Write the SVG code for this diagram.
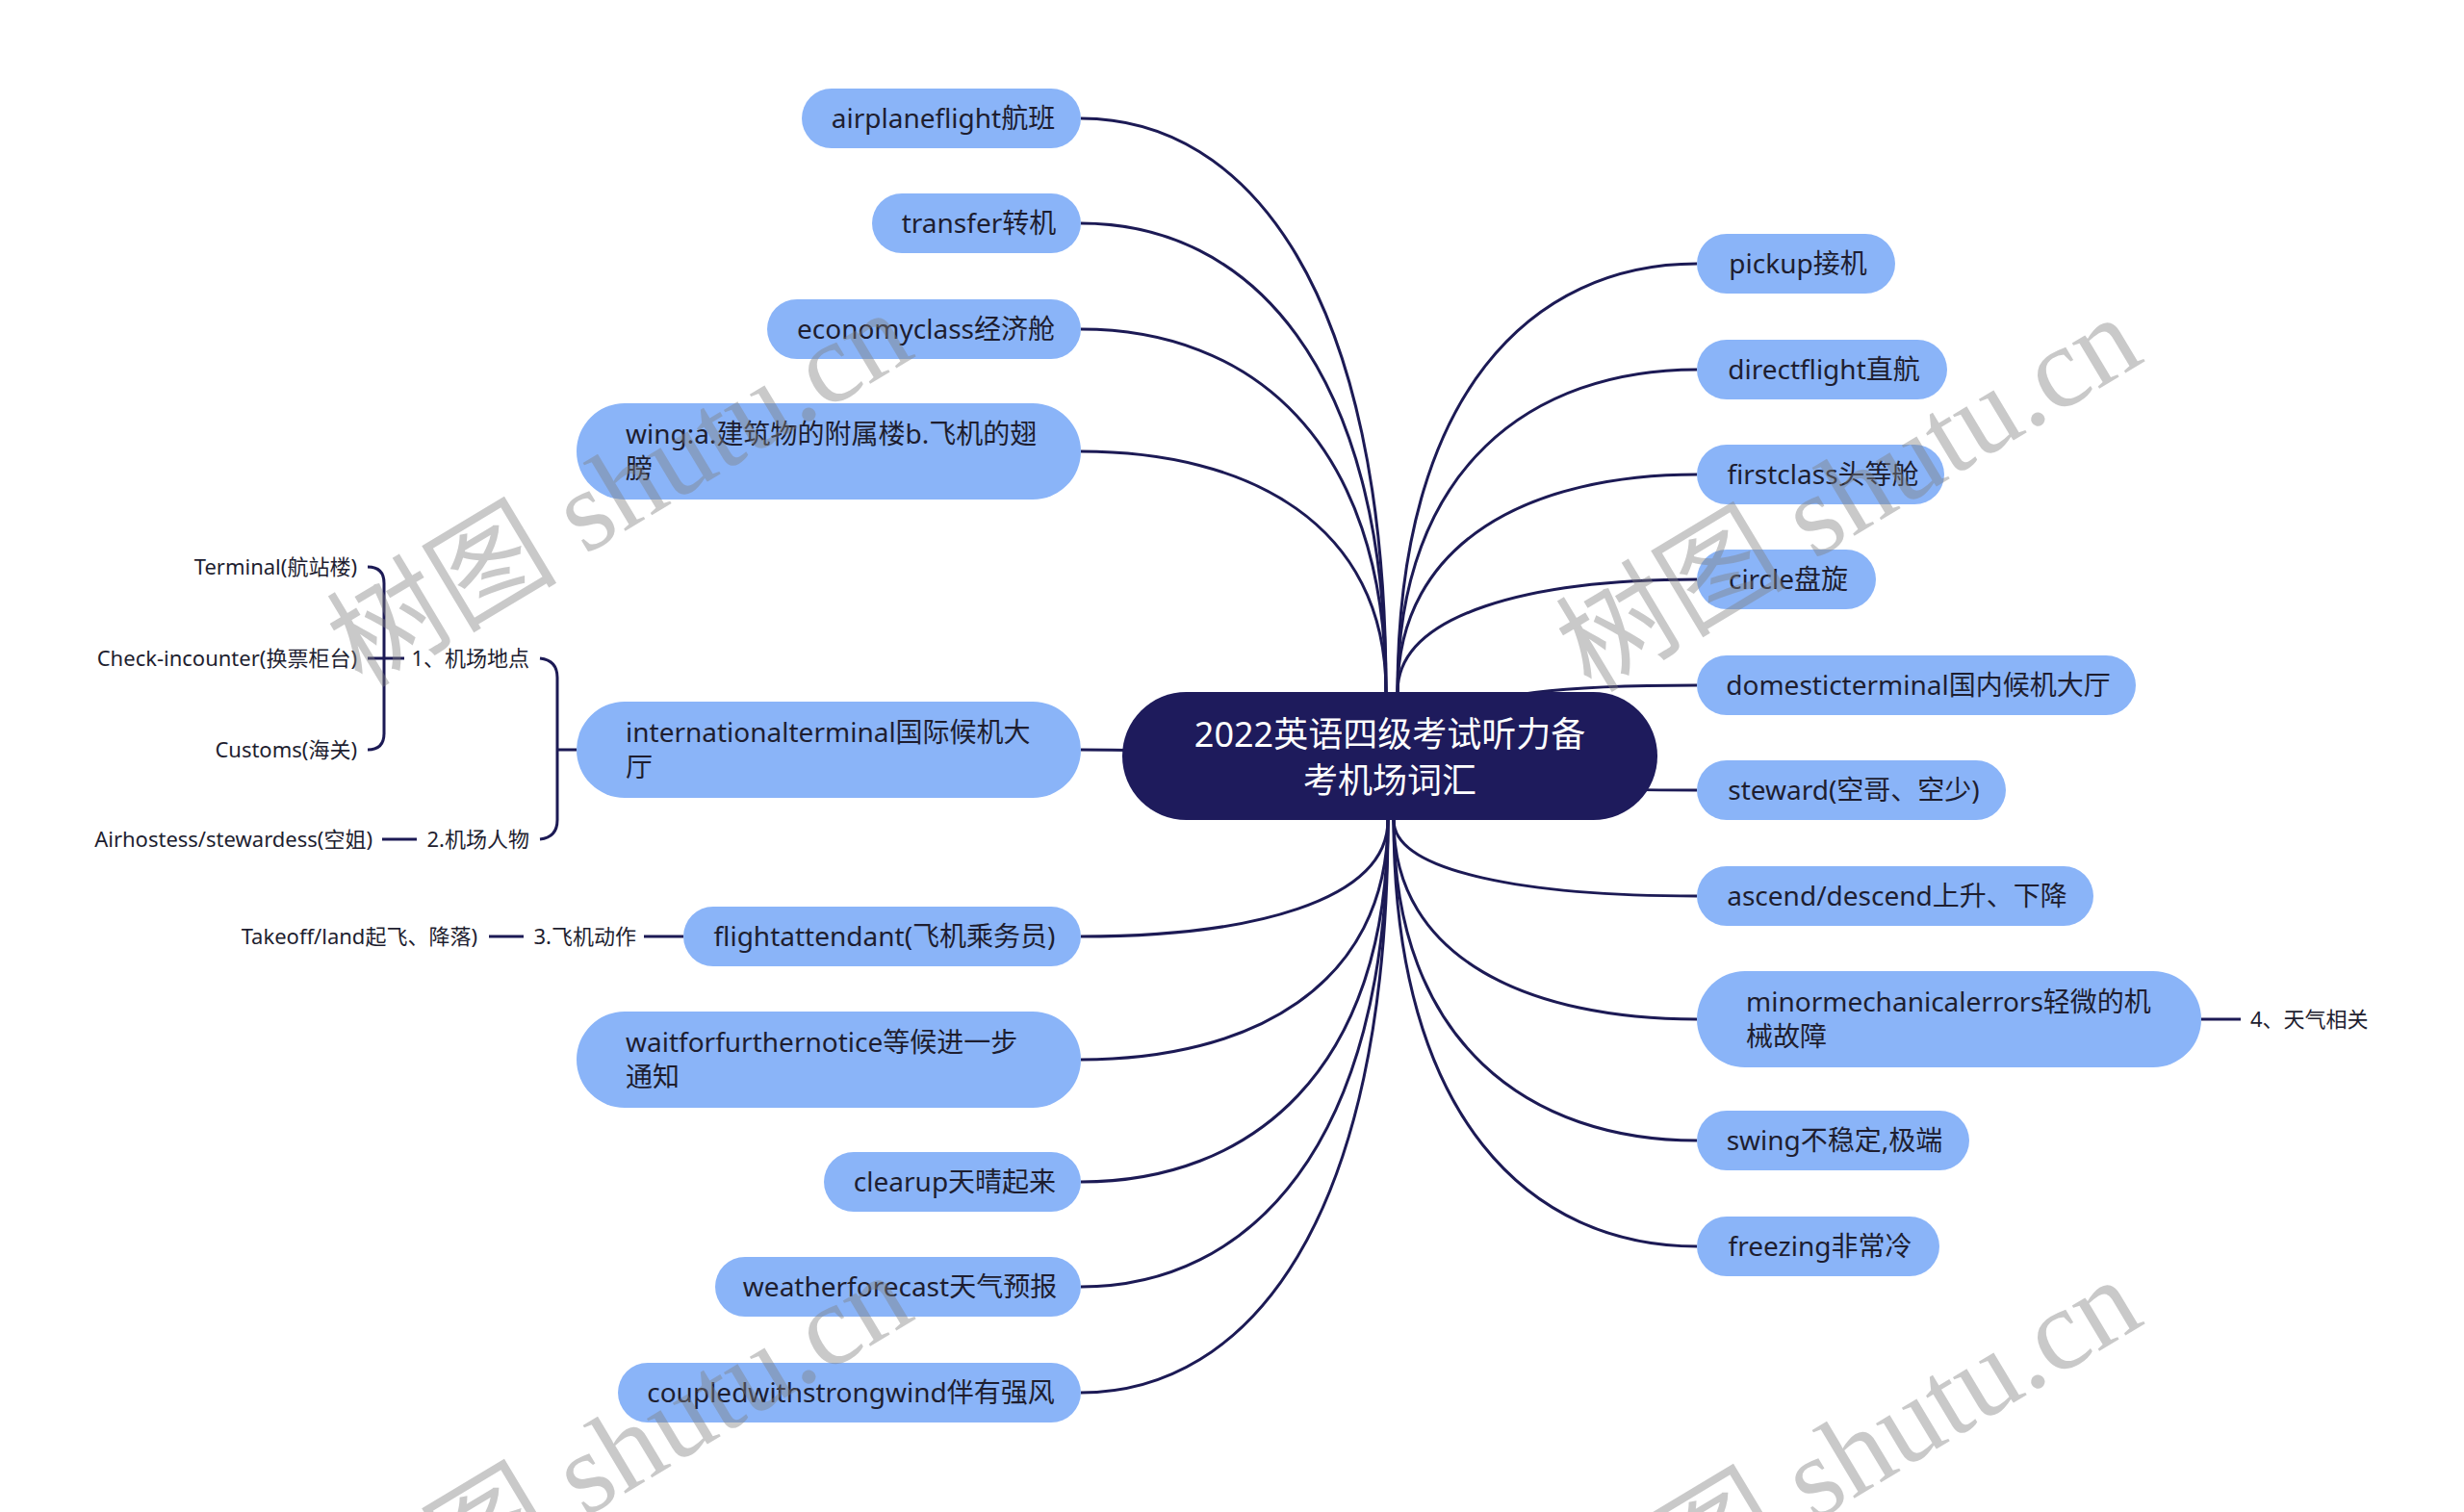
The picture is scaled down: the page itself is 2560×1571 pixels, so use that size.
<svg xmlns="http://www.w3.org/2000/svg" width="2560" height="1571" viewBox="0 0 2560 1571">
<style>
.bg{fill:#ffffff}
.n rect{fill:#8ab4f8}
.t{font-family:"Noto Sans","Noto Sans CJK SC",sans-serif;font-size:28px;fill:#1e1e30}
.c{text-anchor:middle}
.s{font-family:"Noto Sans","Noto Sans CJK SC",sans-serif;font-size:22px;fill:#1e1e30}
.e{text-anchor:end}
.root rect{fill:#1e1b5c}
.root text{font-family:"Noto Sans","Noto Sans CJK SC",sans-serif;font-size:36px;fill:#ffffff;text-anchor:middle}
.k{fill:none;stroke:#1c1a55;stroke-width:3}
.wm{font-family:"Liberation Serif","Noto Sans CJK SC",serif;font-size:120px;fill:#808080;opacity:0.42}
</style>
<rect class="bg" x="0" y="0" width="2560" height="1571"/>
<g id="connectors">
<path class="k" d="M1123,123 C1297,123 1440,302 1440,719"/>
<path class="k" d="M1123,232 C1297,232 1440,378 1440,719"/>
<path class="k" d="M1123,342 C1297,342 1440,455 1440,719"/>
<path class="k" d="M1123,469 C1297,469 1440,544 1440,719"/>
<path class="k" d="M1123,779 C1250,779 1300,785 1444,785"/>
<path class="k" d="M1123,973 C1298,973 1442,937 1442,852"/>
<path class="k" d="M1123,1101 C1298,1101 1442,1026 1442,852"/>
<path class="k" d="M1123,1228 C1298,1228 1442,1115 1442,852"/>
<path class="k" d="M1123,1337 C1298,1337 1442,1191 1442,852"/>
<path class="k" d="M1123,1447 C1298,1447 1442,1268 1442,852"/>
<path class="k" d="M1763,274 C1592,274 1452,408 1452,719"/>
<path class="k" d="M1763,384 C1592,384 1452,485 1452,719"/>
<path class="k" d="M1763,493 C1592,493 1452,561 1452,719"/>
<path class="k" d="M1763,602 C1592,602 1452,637 1452,719"/>
<path class="k" d="M1452,760 C1540,716 1640,712 1763,712"/>
<path class="k" d="M1452,800 C1600,821 1680,821 1763,821"/>
<path class="k" d="M1763,931 C1590,931 1448,907 1448,852"/>
<path class="k" d="M1763,1059 C1590,1059 1448,997 1448,852"/>
<path class="k" d="M1763,1185 C1590,1185 1448,1085 1448,852"/>
<path class="k" d="M1763,1295 C1590,1295 1448,1162 1448,852"/>
<path class="k" d="M599,779 L579,779 M561,684 Q579,686 579,704 L579,852 Q579,870 561,872"/>
<path class="k" d="M382,589 Q399,589 399,606 L399,762 Q399,779 382,779 M382,684 L420,684"/>
<path class="k" d="M397,872 L433,872"/>
<path class="k" d="M669,973 L710,973 M508,973 L544,973"/>
<path class="k" d="M2287,1059 L2328,1059"/>
</g>
<g id="root" class="root">
<rect x="1166" y="719" width="556" height="133" rx="66.5"/>
<text x="1444" y="776">2022英语四级考试听力备</text>
<text x="1444" y="824">考机场词汇</text>
</g>
<g id="n-airplaneflight" class="n"><rect x="833" y="92" width="290" height="62" rx="31"/><text class="t c" x="980" y="133">airplaneflight航班</text></g>
<g id="n-transfer" class="n"><rect x="906" y="201" width="217" height="62" rx="31"/><text class="t c" x="1017" y="242">transfer转机</text></g>
<g id="n-economyclass" class="n"><rect x="797" y="311" width="326" height="62" rx="31"/><text class="t c" x="962" y="352">economyclass经济舱</text></g>
<g id="n-wing" class="n"><rect x="599" y="419" width="524" height="100" rx="50"/><text class="t" x="650" y="461">wing:a.建筑物的附属楼b.飞机的翅</text><text class="t" x="650" y="497">膀</text></g>
<g id="n-international" class="n"><rect x="599" y="729" width="524" height="100" rx="50"/><text class="t" x="650" y="771">internationalterminal国际候机大</text><text class="t" x="650" y="807">厅</text></g>
<g id="n-flightattendant" class="n"><rect x="710" y="942" width="413" height="62" rx="31"/><text class="t c" x="919" y="983">flightattendant(飞机乘务员)</text></g>
<g id="n-waitfor" class="n"><rect x="599" y="1051" width="524" height="100" rx="50"/><text class="t" x="650" y="1093">waitforfurthernotice等候进一步</text><text class="t" x="650" y="1129">通知</text></g>
<g id="n-clearup" class="n"><rect x="856" y="1197" width="267" height="62" rx="31"/><text class="t c" x="992" y="1238">clearup天晴起来</text></g>
<g id="n-weatherforecast" class="n"><rect x="743" y="1306" width="380" height="62" rx="31"/><text class="t c" x="935" y="1347">weatherforecast天气预报</text></g>
<g id="n-coupled" class="n"><rect x="642" y="1416" width="481" height="62" rx="31"/><text class="t c" x="884" y="1457">coupledwithstrongwind伴有强风</text></g>
<g id="n-pickup" class="n"><rect x="1763" y="243" width="206" height="62" rx="31"/><text class="t c" x="1868" y="284">pickup接机</text></g>
<g id="n-directflight" class="n"><rect x="1763" y="353" width="260" height="62" rx="31"/><text class="t c" x="1895" y="394">directflight直航</text></g>
<g id="n-firstclass" class="n"><rect x="1763" y="462" width="257" height="62" rx="31"/><text class="t c" x="1894" y="503">firstclass头等舱</text></g>
<g id="n-circle" class="n"><rect x="1763" y="571" width="186" height="62" rx="31"/><text class="t c" x="1858" y="612">circle盘旋</text></g>
<g id="n-domestic" class="n"><rect x="1763" y="681" width="456" height="62" rx="31"/><text class="t c" x="1993" y="722">domesticterminal国内候机大厅</text></g>
<g id="n-steward" class="n"><rect x="1763" y="790" width="321" height="62" rx="31"/><text class="t c" x="1926" y="831">steward(空哥、空少)</text></g>
<g id="n-ascend" class="n"><rect x="1763" y="900" width="412" height="62" rx="31"/><text class="t c" x="1971" y="941">ascend/descend上升、下降</text></g>
<g id="n-minor" class="n"><rect x="1763" y="1009" width="524" height="100" rx="50"/><text class="t" x="1814" y="1051">minormechanicalerrors轻微的机</text><text class="t" x="1814" y="1087">械故障</text></g>
<g id="n-swing" class="n"><rect x="1763" y="1154" width="283" height="62" rx="31"/><text class="t c" x="1906" y="1195">swing不稳定,极端</text></g>
<g id="n-freezing" class="n"><rect x="1763" y="1264" width="252" height="62" rx="31"/><text class="t c" x="1891" y="1305">freezing非常冷</text></g>
<g id="l-place"><text class="s e" x="550" y="692">1、机场地点</text></g>
<g id="l-people"><text class="s e" x="550" y="880">2.机场人物</text></g>
<g id="l-terminal"><text class="s e" x="371" y="597">Terminal(航站楼)</text></g>
<g id="l-checkin"><text class="s e" x="371" y="692">Check-incounter(换票柜台)</text></g>
<g id="l-customs"><text class="s e" x="371" y="787">Customs(海关)</text></g>
<g id="l-airhostess"><text class="s e" x="387" y="880">Airhostess/stewardess(空姐)</text></g>
<g id="l-action"><text class="s e" x="661" y="981">3.飞机动作</text></g>
<g id="l-takeoff"><text class="s e" x="496" y="981">Takeoff/land起飞、降落)</text></g>
<g id="l-weather"><text class="s" x="2338" y="1067">4、天气相关</text></g>
<g id="watermark">
<text class="wm" transform="translate(376,716) rotate(-31)">树图 shutu.cn</text>
<text class="wm" transform="translate(1653,721) rotate(-31)">树图 shutu.cn</text>
<text class="wm" transform="translate(376,1716) rotate(-31)">树图 shutu.cn</text>
<text class="wm" transform="translate(1653,1721) rotate(-31)">树图 shutu.cn</text>
</g>
</svg>
